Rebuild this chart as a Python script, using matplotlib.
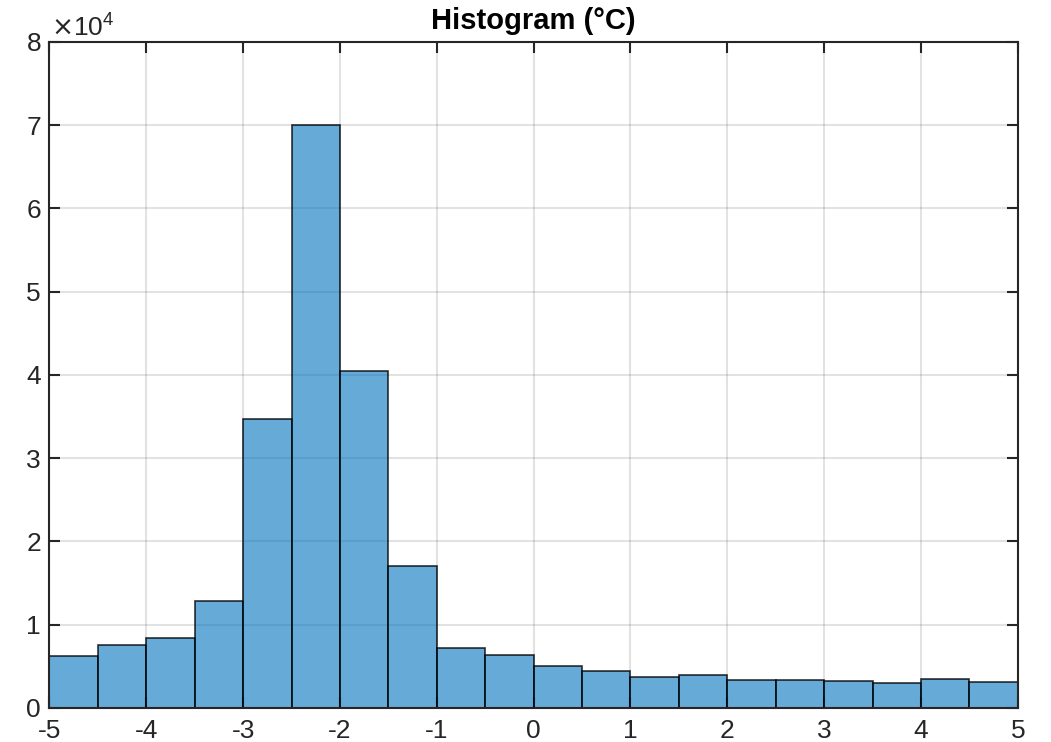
import numpy as np
import matplotlib.pyplot as plt

plt.rcParams['font.family'] = ['Liberation Sans', 'DejaVu Sans']

# histogram bins (°C) and counts
bin_edges = np.arange(-5, 5.01, 0.5)
counts = [6230, 7500, 8400, 12850, 34700, 70000, 40500, 17050, 7200, 6350,
          5000, 4380, 3650, 3980, 3350, 3350, 3200, 3000, 3450, 3150]
y_ticks = [0, 1, 2, 3, 4, 5, 6, 7, 8]
x_ticks = [-5, -4, -3, -2, -1, 0, 1, 2, 3, 4, 5]

fig = plt.figure(figsize=(10.51, 7.42), dpi=100)
ax = fig.add_axes([0.047, 0.046, 0.9215, 0.8975])

ax.bar(bin_edges[:-1], counts, width=np.diff(bin_edges), align='edge',
       facecolor=(0, 0.447, 0.741, 0.6), edgecolor=(0, 0, 0, 0.8),
       linewidth=1.2, zorder=3)

ax.set_xlim(-5, 5)
ax.set_ylim(0, 80000)
ax.set_xticks(x_ticks)
ax.set_xticklabels([str(v) for v in x_ticks])
ax.set_yticks([v * 1e4 for v in y_ticks])
ax.set_yticklabels([str(v) for v in y_ticks])

ax.tick_params(direction='in', length=8, width=1.5, top=True, right=True,
               labelsize=19, colors='#262626')
ax.tick_params(axis='x', pad=8)
ax.tick_params(axis='y', pad=6)
ax.grid(True, color='#262626', alpha=0.13, linewidth=1.5, zorder=1)
ax.set_axisbelow(True)

for s in ax.spines.values():
    s.set_color('#262626')
    s.set_linewidth(1.5)
    s.set_zorder(5)

ax.set_title('Histogram (°C)', fontsize=21, fontweight='bold', pad=9)
ax.text(0.002, 1.0, r'$\times\mathregular{10^{4}}$', transform=ax.transAxes,
        fontsize=19, color='#262626', ha='left', va='bottom')

fig.savefig('out.png', dpi=100)
